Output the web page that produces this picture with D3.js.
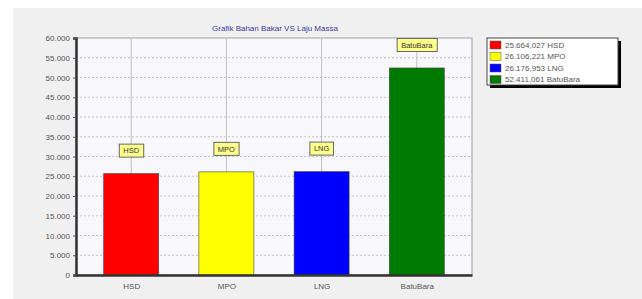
<!DOCTYPE html>
<html>
<head>
<meta charset="utf-8">
<script src="https://cdn.jsdelivr.net/npm/d3@7"></script>
<style>
  body { margin: 0; background: #fff; }
  svg { display: block; font-family: "Liberation Sans", Arial, sans-serif; }
</style>
</head>
<body>
<svg id="chart" width="642" height="299"></svg>
<script>
var categories = ["HSD", "MPO", "LNG", "BatuBara"];
var values = [25664.027, 26106.221, 26176.953, 52411.061];
var legendLabels = ["25.664,027 HSD", "26.106,221 MPO", "26.176,953 LNG", "52.411,061 BatuBara"];
var colors = ["#ff0000", "#ffff00", "#0000ff", "#007a00"];
var yTicks = [0, 5000, 10000, 15000, 20000, 25000, 30000, 35000, 40000, 45000, 50000, 55000, 60000];

var svg = d3.select("#chart");

// outer panel
svg.append("rect")
    .attr("x", 13).attr("y", 8)
    .attr("width", 629).attr("height", 291)
    .attr("fill", "#f0f0f0");

var pLeft = 76, pTop = 38, pRight = 472, pBottom = 275;

var x = d3.scalePoint().domain(categories).range([pLeft, pRight]).padding(0.58);
var y = d3.scaleLinear().domain([0, 60000]).range([pBottom, pTop]);

// plot background
svg.append("rect")
    .attr("x", pLeft).attr("y", pTop)
    .attr("width", pRight - pLeft).attr("height", pBottom - pTop)
    .attr("fill", "#f8f7fb")
    .attr("stroke", "#a0a0a0");

// title
svg.append("text")
    .attr("x", 275).attr("y", 31)
    .attr("text-anchor", "middle")
    .attr("font-size", 8)
    .attr("fill", "#3a3aa8")
    .text("Grafik Bahan Bakar VS Laju Massa");

// horizontal grid
svg.append("g")
    .selectAll("line")
    .data(yTicks.slice(1, -1))
    .enter().append("line")
    .attr("x1", pLeft).attr("x2", pRight)
    .attr("y1", function (d) { return y(d); })
    .attr("y2", function (d) { return y(d); })
    .attr("stroke", "#c4c4cc")
    .attr("stroke-dasharray", "2,2");

// vertical grid at categories
svg.append("g")
    .selectAll("line")
    .data(categories)
    .enter().append("line")
    .attr("x1", function (d) { return x(d); })
    .attr("x2", function (d) { return x(d); })
    .attr("y1", pTop).attr("y2", pBottom)
    .attr("stroke", "#c0c0c0");

// y axis
var yAxis = svg.append("g")
    .attr("transform", "translate(" + pLeft + ",0)")
    .call(d3.axisLeft(y).tickValues(yTicks).tickSize(3).tickFormat(function (d) {
        return d === 0 ? "0" : d3.format(".3f")(d / 1000);
    }));
yAxis.select(".domain").attr("stroke", "#333").attr("stroke-width", 2.5);
yAxis.selectAll(".tick line").attr("stroke", "#555");
yAxis.selectAll(".tick text").attr("font-size", 8).attr("fill", "#555")
    .attr("font-family", "Liberation Sans, Arial, sans-serif");

// bars
var barW = 55;
svg.append("g")
    .selectAll("rect")
    .data(values)
    .enter().append("rect")
    .attr("x", function (d, i) { return x(categories[i]) - barW / 2; })
    .attr("y", function (d) { return y(d); })
    .attr("width", barW)
    .attr("height", function (d) { return pBottom - y(d); })
    .attr("fill", function (d, i) { return colors[i]; })
    .attr("stroke", "#444")
    .attr("stroke-width", 0.6);

// x axis
var xAxis = svg.append("g")
    .attr("transform", "translate(0," + pBottom + ")")
    .call(d3.axisBottom(x).tickSize(0).tickPadding(8));
xAxis.select(".domain").attr("stroke", "#333").attr("stroke-width", 2.5);
xAxis.selectAll(".tick text").attr("font-size", 8).attr("fill", "#555")
    .attr("font-family", "Liberation Sans, Arial, sans-serif");

// labels above bars
var lab = svg.append("g")
    .selectAll("g")
    .data(values)
    .enter().append("g")
    .attr("transform", function (d, i) { return "translate(" + x(categories[i]) + "," + (y(d) - 23) + ")"; });
lab.append("text")
    .attr("text-anchor", "middle")
    .attr("dy", "0.35em")
    .attr("font-size", 7.5)
    .attr("fill", "#333")
    .text(function (d, i) { return categories[i]; })
    .each(function () {
        var bb = this.getBBox();
        d3.select(this.parentNode).insert("rect", "text")
            .attr("x", bb.x - 4).attr("y", -6.5)
            .attr("width", bb.width + 8).attr("height", 13)
            .attr("fill", "#ffff8c")
            .attr("stroke", "#666")
            .attr("stroke-width", 1);
    });

// legend
var lg = svg.append("g").attr("transform", "translate(487,38)");
lg.append("rect").attr("x", 3).attr("y", 3).attr("width", 131).attr("height", 47).attr("fill", "#000");
lg.append("rect").attr("x", 0).attr("y", 0).attr("width", 131).attr("height", 47)
    .attr("fill", "#fff").attr("stroke", "#444");
var items = lg.selectAll(".item")
    .data(legendLabels)
    .enter().append("g")
    .attr("class", "item")
    .attr("transform", function (d, i) { return "translate(3," + (7 + i * 11.5) + ")"; });
items.append("rect")
    .attr("x", 0).attr("y", -4)
    .attr("width", 11).attr("height", 8)
    .attr("fill", function (d, i) { return colors[i]; })
    .attr("stroke", "#555").attr("stroke-width", 0.5);
items.append("text")
    .attr("x", 15).attr("dy", "0.35em")
    .attr("font-size", 8)
    .attr("fill", "#555")
    .text(function (d) { return d; });
</script>
</body>
</html>
